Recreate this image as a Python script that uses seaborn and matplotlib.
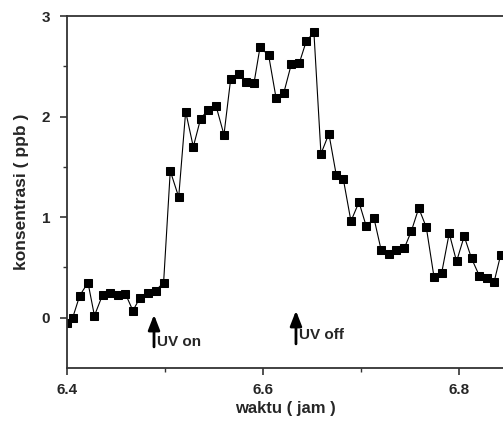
import numpy as np
import pandas as pd
import seaborn as sns
import matplotlib.pyplot as plt

# waktu (jam) dan konsentrasi (ppb)
waktu = [6.400, 6.4058, 6.413, 6.4214, 6.428, 6.4364, 6.4439, 6.4517, 6.4595,
         6.4673, 6.4745, 6.4827, 6.4905, 6.4986, 6.5054, 6.514, 6.5211, 6.5289,
         6.5364, 6.5442, 6.552, 6.5602, 6.567, 6.5752, 6.5827, 6.5908, 6.597,
         6.6058, 6.6133, 6.6211, 6.6289, 6.637, 6.6442, 6.652, 6.6592, 6.6673,
         6.6748, 6.682, 6.6898, 6.698, 6.7054, 6.7133, 6.7207, 6.7286, 6.736,
         6.7442, 6.7514, 6.7590, 6.7667, 6.7745, 6.7823, 6.7901, 6.7976, 6.8054,
         6.8129, 6.8207, 6.8282, 6.836, 6.8425]
konsentrasi = [-0.05, 0.00, 0.22, 0.35, 0.02, 0.23, 0.25, 0.23, 0.24,
               0.07, 0.20, 0.25, 0.27, 0.35, 1.46, 1.20, 2.05, 1.70,
               1.98, 2.07, 2.11, 1.82, 2.37, 2.42, 2.34, 2.33, 2.69,
               2.61, 2.19, 2.23, 2.52, 2.53, 2.75, 2.84, 1.63, 1.83,
               1.42, 1.38, 0.96, 1.15, 0.91, 0.99, 0.67, 0.63, 0.67,
               0.69, 0.86, 1.09, 0.90, 0.41, 0.44, 0.84, 0.56, 0.81,
               0.59, 0.42, 0.40, 0.36, 0.62]

# penanda UV: (label, x, ujung panah, pangkal panah, y teks)
uv_marks = [("UV on", 6.4888, 0.03, -0.29, -0.24),
            ("UV off", 6.6337, 0.07, -0.26, -0.17)]

df = pd.DataFrame({"waktu": waktu, "konsentrasi": konsentrasi})

sns.set_style("ticks")
plt.rcParams['font.family'] = ['Liberation Sans', 'DejaVu Sans']
plt.rcParams['font.weight'] = 'bold'

fig = plt.figure(figsize=(5.03, 4.23), dpi=100)
ax = fig.add_axes([0.1332, 0.130, 0.8668, 0.832])

sns.lineplot(data=df, x="waktu", y="konsentrasi", ax=ax, color="black",
             linewidth=0.8, marker="s", markersize=5.5,
             markeredgecolor="black", sort=False)

for label, x, tip, tail, ty in uv_marks:
    ax.annotate("", xy=(x, tip), xytext=(x, tail),
                arrowprops=dict(arrowstyle="-|>,head_length=0.9,head_width=0.35",
                                color="black", lw=2.0, shrinkA=0, shrinkB=0))
    ax.text(x + 0.0035, ty, label, fontsize=11, fontweight="bold",
            ha="left", va="center")

ax.set_xlim(6.4, 6.845)
ax.set_ylim(-0.5, 3)
ax.set_xticks([6.4, 6.6, 6.8])
ax.set_xticks([6.5, 6.7], minor=True)
ax.set_yticks([0, 1, 2, 3])
ax.set_yticks([0.5, 1.5, 2.5], minor=True)
ax.tick_params(axis="both", which="major", labelsize=11, length=5, width=1.2,
               color="#333333")
ax.tick_params(axis="both", which="minor", length=3, width=1.0, color="#333333")
ax.tick_params(axis="x", pad=6)
ax.tick_params(axis="y", pad=7)

for s in ["left", "bottom", "top"]:
    ax.spines[s].set_linewidth(1.3)
    ax.spines[s].set_color("#333333")
ax.spines["right"].set_visible(False)

ax.set_xlabel("waktu ( jam )", fontsize=12, fontweight="bold", labelpad=3)
ax.set_ylabel("konsentrasi ( ppb )", fontsize=12.5, fontweight="bold", labelpad=9)

fig.savefig("out.png", dpi=100)
